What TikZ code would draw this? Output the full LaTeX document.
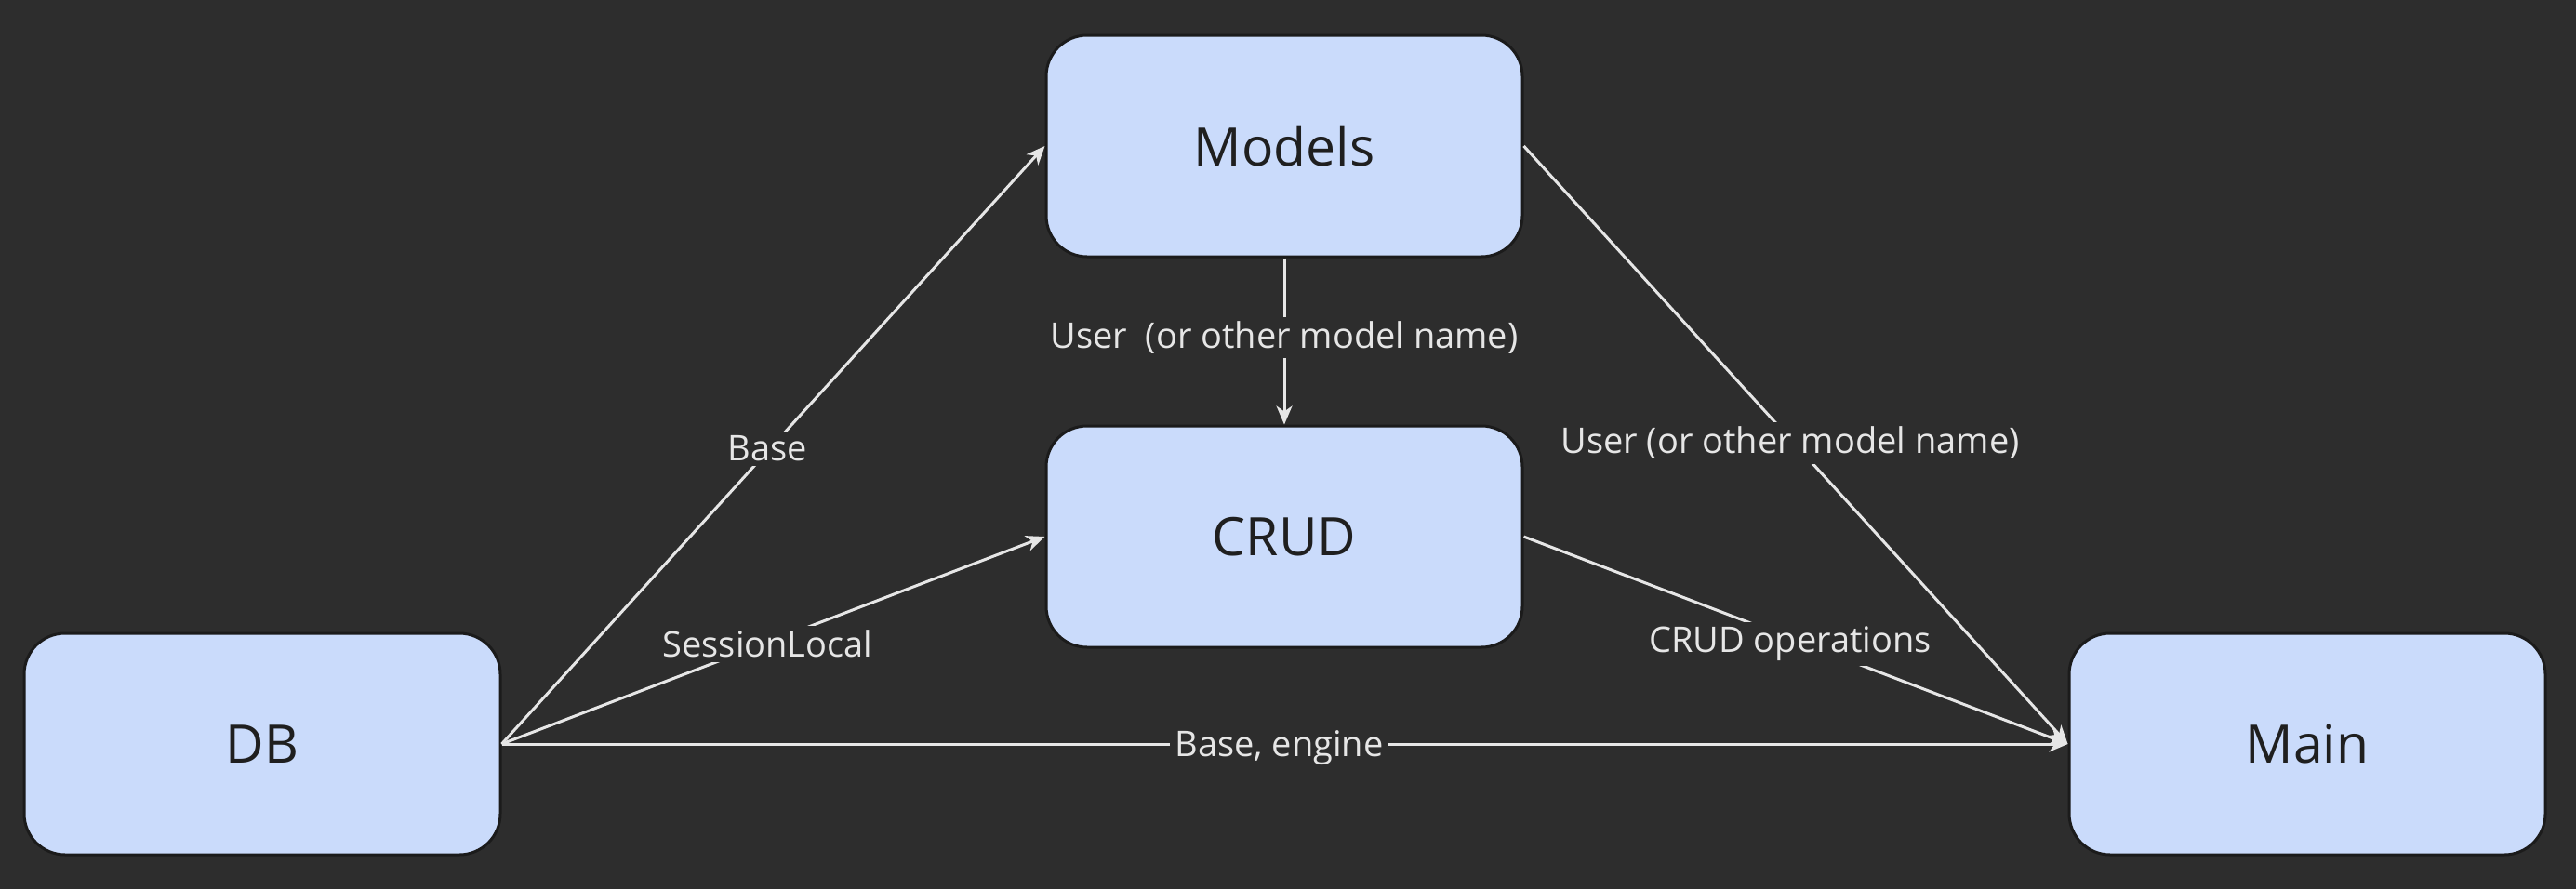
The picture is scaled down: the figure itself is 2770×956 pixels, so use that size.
\documentclass[tikz,border=0pt]{standalone}
\usepackage{fontspec}
\setmainfont{Open Sans}
\usepackage{tikz}
\usetikzlibrary{arrows.meta}
\definecolor{bgGray}{HTML}{2D2D2D}
\definecolor{boxBlue}{HTML}{CADBFB}
\definecolor{boxLine}{HTML}{1B1B1B}
\definecolor{edgeGray}{HTML}{E6E6E6}

\begin{document}
\begin{tikzpicture}[x=1pt, y=-1pt,
    box/.style={draw=boxLine, fill=boxBlue, line width=3pt, rounded corners=44pt, minimum width=512pt, minimum height=238pt, font=\fontsize{57}{68}\selectfont, text=black!88},
    link/.style={draw=edgeGray, line width=3pt, -{Stealth[length=20pt, width=17pt, inset=6pt]}},
    tag/.style={fill=bgGray, text=edgeGray, inner sep=5pt, xshift=-6pt, yshift=-4pt, font=\fontsize{38}{45}\selectfont}]
    \fill[bgGray] (0,0) rectangle (2770,956);
    \node[box] (models) at (1381,157) {Models};
    \node[box] (crud) at (1381,577) {CRUD};
    \node[box] (db) at (282,800) {DB};
    \node[box] (main) at (2481,800) {Main};
    \draw[link] (db.east) -- node[tag] (lblbase) {Base} (models.west);
    \draw[link] (db.east) -- node[tag] (lblsession) {SessionLocal} (crud.west);
    \draw[link] (db.east) -- node[tag] (lblengine) {Base, engine} (main.west);
    \draw[link] (models.south) -- node[tag, xshift=6pt, yshift=8pt] (lbluser) {User\ \ (or other model name)} (crud.north);
    \draw[link] (models.east) -- node[tag, yshift=6pt] (lblusermain) {User (or other model name)} (main.west);
    \draw[link] (crud.east) -- node[tag] (lblops) {CRUD operations} (main.west);

\end{tikzpicture}
\end{document}
